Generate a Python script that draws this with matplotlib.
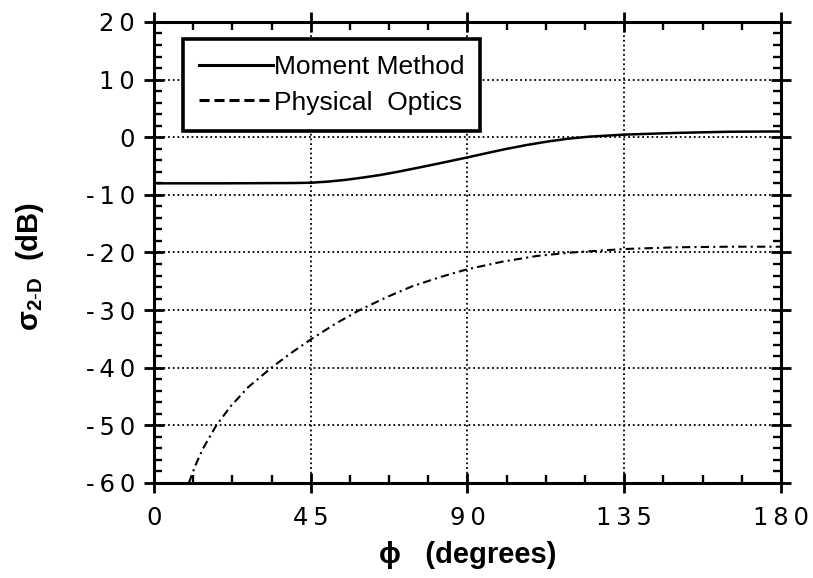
import matplotlib
matplotlib.use("Agg")
import matplotlib.pyplot as plt
from matplotlib.lines import Line2D
from matplotlib.ticker import MultipleLocator

plt.rcParams['font.family'] = ['Liberation Sans', 'DejaVu Sans']
plt.rcParams['mathtext.fontset'] = 'custom'
plt.rcParams['mathtext.bf'] = 'Liberation Sans:bold'
plt.rcParams['mathtext.rm'] = 'Liberation Sans'

# ---- data ----
phi_mm = [0, 20, 40, 45, 50, 55, 60, 65, 70, 77, 83, 90, 96, 101, 107, 113,
          119, 125, 135, 150, 165, 180]
sigma_mm = [-8.0, -8.0, -7.95, -7.9, -7.7, -7.4, -7.0, -6.55, -6.0, -5.15,
            -4.4, -3.5, -2.7, -2.05, -1.35, -0.75, -0.25, 0.1, 0.45, 0.75,
            0.95, 1.0]

phi_po = [10, 12, 14, 17.9, 22, 27, 33.7, 39, 45, 52, 59, 67, 74, 82, 90,
          100, 110, 120, 135, 150, 165, 180]
sigma_po = [-60, -56.8, -54.1, -50, -46.7, -43.4, -40, -37.6, -35.1, -32.4,
            -30, -27.7, -25.9, -24.3, -22.9, -21.6, -20.6, -20.0, -19.4,
            -19.1, -19.0, -19.0]

x_ticks = [0, 45, 90, 135, 180]
y_ticks = [-60, -50, -40, -30, -20, -10, 0, 10, 20]
legend_labels = ["Moment Method", "Physical  Optics"]

fig = plt.figure(figsize=(8.13, 5.78), dpi=100)
ax = fig.add_axes([0.1894, 0.1644, 0.7712, 0.7976])

ax.plot(phi_mm, sigma_mm, color='black', lw=1.8, solid_capstyle='butt')
ax.plot(phi_po, sigma_po, color='black', lw=1.5, linestyle=(0, (4, 2, 1, 2)))

ax.set_xlim(0, 180)
ax.set_ylim(-60, 20)

def spaced(v):
    return '\u2009'.join(str(v))

tick_font = dict(family=['DejaVu Sans'], size=17.5)
ax.set_xticks(x_ticks)
ax.set_xticklabels([spaced(v) for v in x_ticks], fontdict=tick_font)
ax.set_yticks(y_ticks)
ax.set_yticklabels([spaced(v) for v in y_ticks], fontdict=tick_font)
ax.xaxis.set_minor_locator(MultipleLocator(11.25))
ax.yaxis.set_minor_locator(MultipleLocator(2))

ax.tick_params(which='major', direction='inout', length=15, width=2.0,
               top=True, right=True, pad=6, labelcolor='black')
ax.tick_params(which='minor', direction='in', length=5.5, width=1.7,
               top=True, right=True)
ax.tick_params(axis='x', which='major', pad=9)

for sp in ax.spines.values():
    sp.set_linewidth(2.2)

ax.grid(True, which='major', color='black', linestyle=(0, (1, 1.6)), lw=1.3)

ax.set_xlabel('ϕ   (degrees)', fontsize=21, fontweight='bold')
ax.xaxis.set_label_coords(0.5, -0.125)
ax.set_ylabel(r'σ$_{\mathbf{2\text{-}D}}$  (dB)', fontsize=21,
              fontweight='bold')
ax.yaxis.set_label_coords(-0.173, 0.47)

handles = [Line2D([], [], color='black', lw=2.2),
           Line2D([], [], color='black', lw=2.2, linestyle=(0, (3.3, 1.6)))]
leg = ax.legend(handles, legend_labels, loc='upper left',
                bbox_to_anchor=(0.046, 0.963), fontsize=19, frameon=True,
                fancybox=False, edgecolor='black', framealpha=1,
                handlelength=2.8, handletextpad=0.05, borderpad=0.6,
                labelspacing=0.45, borderaxespad=0, handleheight=0.7)
leg.get_frame().set_linewidth(2.6)

fig.savefig('out.png', dpi=100)
